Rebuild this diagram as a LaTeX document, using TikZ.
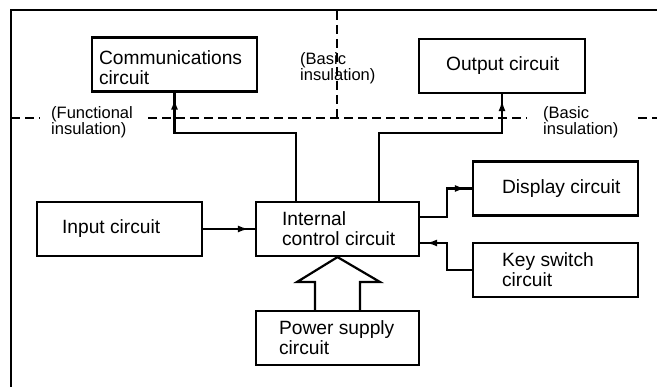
\documentclass[tikz,border=0pt]{standalone}
\usepackage{fontspec}
\setmainfont{Liberation Sans}
\usetikzlibrary{arrows.meta,decorations.markings}
\begin{document}
\begin{tikzpicture}[x=1pt,y=-1pt,
  box/.style={draw, line width=2.2pt, minimum width=165pt, minimum height=54pt, inner sep=0pt},
  boxtxt/.style={anchor=west, align=left, inner sep=0pt, font=\fontsize{19.2}{20}\selectfont},
  lbl/.style={anchor=west, align=left, inner sep=0pt, font=\fontsize{16.5}{15.5}\selectfont},
  conn/.style={line width=2.2pt, postaction={decorate},
    decoration={markings, mark=at position -6pt with {\arrow{Latex[length=11pt,width=7pt]}}}},
  frameline/.style={line width=2.2pt},
  insul/.style={line width=2pt, dash pattern=on 9pt off 5pt},
  hollow/.style={line width=2.2pt, line join=miter}
]
\useasboundingbox (0,0) rectangle (657,387);

% frame
\draw[frameline] (11,387) -- (11,10) -- (657,10);

% insulation lines
\draw[insul] (11,118) -- (40,118);
\draw[insul] (148,118) -- (527,118);
\draw[insul] (638,118) -- (657,118);
\draw[insul] (337,11) -- (337,118);

% boxes
\node[box] (comm) at (174.5,64.5) {};
\node[box, minimum width=166pt] (out) at (502,66) {};
\node[box] (disp) at (555.5,188.5) {};
\node[box] (input) at (119.5,229) {};
\node[box, minimum width=163pt] (ctrl) at (337.5,229) {};
\node[box] (key) at (555.5,270) {};
\node[box, minimum width=163pt] (power) at (337.5,338) {};

% box texts
\node[boxtxt] (commt) at ([xshift=8pt,yshift=-3pt]comm.west) {Communications\\circuit};
\node[boxtxt] (outt) at ([xshift=28pt]out.west) {Output circuit};
\node[boxtxt] (dispt) at ([xshift=30pt]disp.west) {Display circuit};
\node[boxtxt] (inputt) at ([xshift=26pt]input.west) {Input circuit};
\node[boxtxt] (ctrlt) at ([xshift=27pt]ctrl.west) {Internal\\control circuit};
\node[boxtxt] (keyt) at ([xshift=30pt]key.west) {Key switch\\circuit};
\node[boxtxt] (powert) at ([xshift=24pt]power.west) {Power supply\\circuit};

% insulation labels
\node[lbl] (lfunc) at (51,122) {(Functional\\insulation)};
\node[lbl] (lbasic1) at (300,68) {(Basic\\insulation)};
\node[lbl] (lbasic2) at (543,122) {(Basic\\insulation)};

% connectors
\coordinate (jcomm) at (174.5,133);
\coordinate (jout) at (502,133);
\coordinate (jdisp) at (447,188.5);
\coordinate (jkey) at (447,243);

\draw[conn] (input.east) -- (ctrl.west);
\draw[conn] ([xshift=41pt]ctrl.north west) |- (jcomm) -- (comm.south);
\draw[conn] ([xshift=124pt]ctrl.north west) |- (jout) -- (out.south);
\draw[conn] ([yshift=12pt]ctrl.east) -| (jdisp) -- (disp.west);
\draw[conn] (key.west) -| (jkey) -- ([yshift=-14pt]ctrl.east);

% hollow power arrow
\coordinate (pl) at (315,311);
\coordinate (pr) at (360,311);
\draw[hollow] (pl) -- (315,282) -- (297,282) -- (ctrl.south) -- (380,282) -- (360,282) -- (pr);
\end{tikzpicture}
\end{document}
